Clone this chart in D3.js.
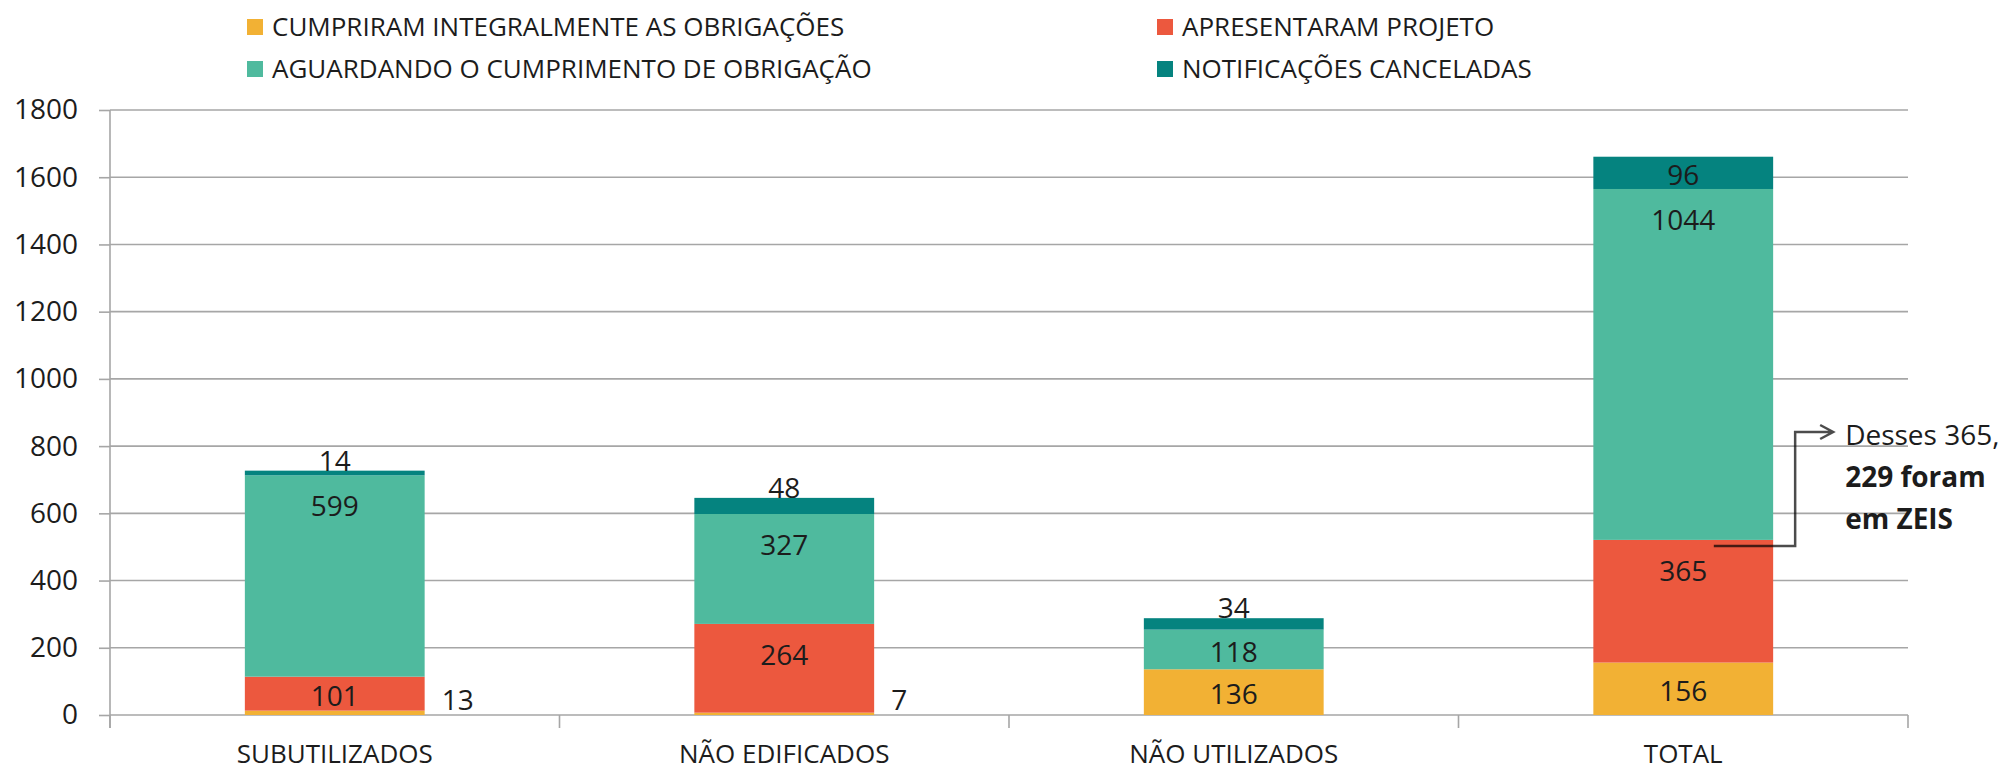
<!DOCTYPE html>
<html>
<head>
<meta charset="utf-8">
<script src="https://cdn.jsdelivr.net/npm/d3@7.9.0/dist/d3.min.js"></script>
<style>
  body { margin: 0; background: #fff; }
  text { font-family: "Open Sans", sans-serif; fill: #1c1c1c; }
</style>
</head>
<body>
<svg id="chart" width="2013" height="773"></svg>
<script>
// data
const categories = ["SUBUTILIZADOS", "NÃO EDIFICADOS", "NÃO UTILIZADOS", "TOTAL"];
const cumpriram = [13, 7, 136, 156];
const apresentaram = [101, 264, 0, 365];
const aguardando = [599, 327, 118, 1044];
const canceladas = [14, 48, 34, 96];
const seriesKeys = ["cumpriram", "apresentaram", "aguardando", "canceladas"];
const seriesNames = [
  "CUMPRIRAM INTEGRALMENTE AS OBRIGAÇÕES",
  "APRESENTARAM PROJETO",
  "AGUARDANDO O CUMPRIMENTO DE OBRIGAÇÃO",
  "NOTIFICAÇÕES CANCELADAS"
];
const seriesColors = ["#F2B134", "#EC583E", "#4FBA9E", "#05837F"];
const yTicks = [0, 200, 400, 600, 800, 1000, 1200, 1400, 1600, 1800];
const noteLines = ["Desses 365,", "229 foram", "em ZEIS"];

const rows = categories.map((c, i) => ({
  cat: c,
  cumpriram: cumpriram[i],
  apresentaram: apresentaram[i],
  aguardando: aguardando[i],
  canceladas: canceladas[i]
}));

const svg = d3.select("#chart");
const plotLeft = 110, plotRight = 1908, plotTop = 110, plotBottom = 715;

const x = d3.scaleBand().domain(categories).range([plotLeft, plotRight])
  .paddingInner(0.6).paddingOuter(0.3);
const y = d3.scaleLinear().domain([0, 1800]).range([plotBottom, plotTop]);
const color = d3.scaleOrdinal().domain(seriesKeys).range(seriesColors);

// gridlines
svg.append("g").selectAll("line").data(yTicks).join("line")
  .attr("x1", plotLeft).attr("x2", plotRight)
  .attr("y1", d => y(d)).attr("y2", d => y(d))
  .attr("stroke", "#a6a6a6").attr("stroke-width", 1.6);

// y axis
const yAxis = svg.append("g").attr("transform", `translate(${plotLeft},0)`)
  .call(d3.axisLeft(y).tickValues(yTicks).tickFormat(d3.format("d"))
    .tickSize(11).tickPadding(21).tickSizeOuter(0));
yAxis.select(".domain").remove();
yAxis.selectAll(".tick line").attr("stroke", "#a6a6a6").attr("stroke-width", 1.6);
yAxis.selectAll(".tick text").style("font-size", "28px").attr("fill", "#222");
svg.append("line").attr("x1", plotLeft).attr("x2", plotLeft)
  .attr("y1", y(1800)).attr("y2", plotBottom + 13)
  .attr("stroke", "#a6a6a6").attr("stroke-width", 1.6);

// category boundary ticks
d3.range(categories.length + 1).forEach(i => {
  const bx = plotLeft + i * x.step();
  svg.append("line").attr("x1", bx).attr("x2", bx)
    .attr("y1", plotBottom).attr("y2", plotBottom + 13)
    .attr("stroke", "#a6a6a6").attr("stroke-width", 1.6);
});

// x axis labels
const xAxis = svg.append("g").attr("transform", `translate(0,${plotBottom})`)
  .call(d3.axisBottom(x).tickSize(0).tickPadding(30));
xAxis.select(".domain").remove();
xAxis.selectAll(".tick text").style("font-size", "26px").attr("fill", "#222");

// stacked bars
const stacked = d3.stack().keys(seriesKeys)(rows);
const layers = svg.append("g").selectAll("g").data(stacked).join("g")
  .attr("fill", d => color(d.key));
layers.selectAll("rect").data(d => d).join("rect")
  .attr("x", d => x(d.data.cat))
  .attr("width", x.bandwidth())
  .attr("y", d => y(d[1]))
  .attr("height", d => y(d[0]) - y(d[1]));

// value labels
const labels = svg.append("g").style("font-size", "28px");
stacked.forEach(layer => {
  layer.forEach(d => {
    const v = d[1] - d[0];
    if (v === 0) return;
    const cx = x(d.data.cat) + x.bandwidth() / 2;
    const yTop = y(d[1]), yBot = y(d[0]);
    const h = yBot - yTop;
    let tx = cx, ty, anchor = "middle", dy = "0.36em";
    if (layer.key === "cumpriram" && h < 10) {
      tx = x(d.data.cat) + x.bandwidth() + 17; anchor = "start"; ty = plotBottom - 15;
    } else if (layer.key === "canceladas" && d.data.cat !== "TOTAL") {
      ty = yTop; dy = "0";
    } else if (h > 60) {
      ty = yTop + 31;
    } else {
      ty = (yTop + yBot) / 2 + 2;
    }
    labels.append("text").attr("x", tx).attr("y", ty).attr("dy", dy)
      .attr("text-anchor", anchor).text(v);
  });
});

// legend
const legend = svg.append("g").style("font-size", "26px");
const legendPos = [[247, 27], [1157, 27], [247, 69], [1157, 69]];
seriesNames.forEach((name, i) => {
  const [lx, ly] = legendPos[i];
  legend.append("rect").attr("x", lx).attr("y", ly - 8).attr("width", 16).attr("height", 16)
    .attr("fill", seriesColors[i]);
  legend.append("text").attr("x", lx + 25).attr("y", ly).attr("dy", "0.36em").text(name);
});

// annotation for the TOTAL red segment
const tb = x("TOTAL");
const redTop = y(cumpriram[3] + apresentaram[3]);
const ax0 = tb + x.bandwidth() * 0.67, ay0 = redTop + 6;
const ax1 = tb + x.bandwidth() + 22, ay1 = 432, ax2 = ax1 + 38;
svg.append("path")
  .attr("d", `M${ax0},${ay0}H${ax1}V${ay1}H${ax2}M${ax2 - 13},${ay1 - 7}L${ax2},${ay1}L${ax2 - 13},${ay1 + 7}`)
  .attr("fill", "none").attr("stroke", "#000").attr("stroke-opacity", 0.7).attr("stroke-width", 2.5);
const note = svg.append("g").style("font-size", "28px");
noteLines.forEach((t, i) => {
  note.append("text").attr("x", ax2 + 12).attr("y", ay1 + 3 + i * 42).attr("dy", "0.36em")
    .style("font-weight", i === 0 ? "normal" : "bold").text(t);
});
</script>
</body>
</html>
